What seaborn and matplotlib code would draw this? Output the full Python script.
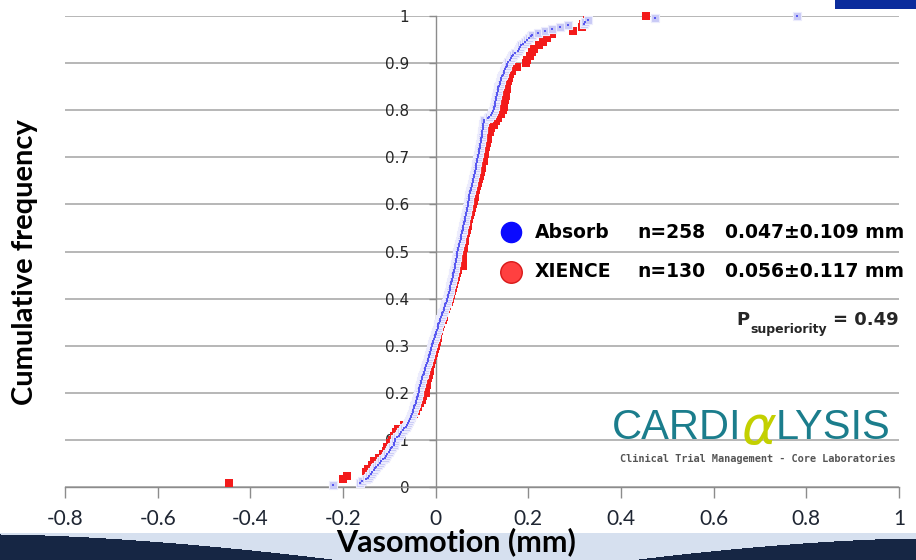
import numpy as np
import pandas as pd
import matplotlib.pyplot as plt
import seaborn as sns
from matplotlib.patches import Rectangle

# Vasomotion values (mm), sorted
absorb = [
    -0.222, -0.163, -0.158, -0.151, -0.147, -0.143, -0.140, -0.137, -0.134, -0.131,
    -0.128, -0.125, -0.121, -0.117, -0.113, -0.110, -0.107, -0.104, -0.101, -0.099,
    -0.096, -0.094, -0.091, -0.089, -0.088, -0.087, -0.083, -0.080, -0.077, -0.074,
    -0.071, -0.068, -0.065, -0.062, -0.059, -0.057, -0.055, -0.053, -0.053, -0.051,
    -0.050, -0.049, -0.047, -0.046, -0.045, -0.043, -0.042, -0.041, -0.040, -0.039,
    -0.038, -0.037, -0.036, -0.035, -0.034, -0.033, -0.032, -0.031, -0.030, -0.029,
    -0.027, -0.026, -0.025, -0.024, -0.022, -0.021, -0.020, -0.019, -0.017, -0.016,
    -0.015, -0.014, -0.013, -0.012, -0.011, -0.010, -0.008, -0.007, -0.006, -0.005,
    -0.004, -0.002, -0.001, 0.000, 0.001, 0.002, 0.004, 0.005, 0.006, 0.008,
    0.009, 0.010, 0.012, 0.013, 0.014, 0.016, 0.017, 0.018, 0.020, 0.021,
    0.022, 0.024, 0.025, 0.026, 0.027, 0.028, 0.029, 0.030, 0.031, 0.032,
    0.033, 0.034, 0.035, 0.036, 0.037, 0.038, 0.038, 0.039, 0.040, 0.041,
    0.041, 0.042, 0.043, 0.044, 0.044, 0.045, 0.046, 0.047, 0.047, 0.048,
    0.049, 0.050, 0.051, 0.052, 0.053, 0.054, 0.054, 0.055, 0.056, 0.057,
    0.058, 0.059, 0.060, 0.061, 0.062, 0.063, 0.063, 0.064, 0.065, 0.066,
    0.067, 0.067, 0.068, 0.069, 0.069, 0.070, 0.071, 0.072, 0.073, 0.073,
    0.074, 0.075, 0.076, 0.077, 0.078, 0.079, 0.080, 0.081, 0.081, 0.082,
    0.083, 0.084, 0.085, 0.086, 0.086, 0.087, 0.088, 0.089, 0.089, 0.090,
    0.091, 0.092, 0.093, 0.093, 0.094, 0.095, 0.096, 0.096, 0.097, 0.098,
    0.098, 0.099, 0.100, 0.100, 0.101, 0.102, 0.102, 0.103, 0.103, 0.104,
    0.104, 0.112, 0.116, 0.119, 0.122, 0.124, 0.125, 0.126, 0.127, 0.128,
    0.129, 0.130, 0.131, 0.131, 0.132, 0.133, 0.134, 0.135, 0.135, 0.136,
    0.138, 0.139, 0.141, 0.142, 0.144, 0.145, 0.147, 0.148, 0.150, 0.152,
    0.153, 0.154, 0.157, 0.160, 0.163, 0.165, 0.167, 0.172, 0.177, 0.180,
    0.182, 0.185, 0.189, 0.193, 0.197, 0.201, 0.205, 0.207, 0.221, 0.235,
    0.250, 0.268, 0.285, 0.320, 0.322, 0.329, 0.473, 0.779,
]

xience = [
    -0.445, -0.199, -0.191, -0.150, -0.145, -0.138, -0.133, -0.122, -0.114, -0.108,
    -0.104, -0.099, -0.095,
    -0.090, -0.085, -0.081, -0.068, -0.056, -0.052, -0.047, -0.042, -0.038, -0.034,
    -0.030, -0.027, -0.021,
    -0.020, -0.019, -0.018, -0.016, -0.015, -0.013, -0.012, -0.010, -0.008, -0.006,
    -0.004, -0.002, 0.000,
    0.002, 0.004, 0.006, 0.008, 0.010, 0.012, 0.015, 0.017, 0.019, 0.022,
    0.025, 0.028, 0.031,
    0.033, 0.036, 0.038, 0.040, 0.042, 0.044, 0.046, 0.048,
    0.058, 0.058, 0.059, 0.059, 0.059,
    0.061, 0.062, 0.063, 0.064, 0.066, 0.067, 0.069, 0.070, 0.072, 0.074,
    0.076, 0.078, 0.080,
    0.082, 0.084, 0.085, 0.087, 0.089, 0.091, 0.093, 0.095, 0.097, 0.099, 0.101,
    0.104, 0.105, 0.106, 0.107, 0.109, 0.111, 0.112, 0.114, 0.117,
    0.120, 0.125, 0.130, 0.135, 0.140, 0.145,
    0.147, 0.148, 0.150, 0.151, 0.152, 0.153,
    0.155, 0.156, 0.158, 0.160, 0.165, 0.175,
    0.195, 0.198, 0.203, 0.208, 0.213, 0.222, 0.232, 0.240,
    0.250, 0.297, 0.315, 0.319, 0.326, 0.455,
]

x_ticks = [-0.8, -0.6, -0.4, -0.2, 0.0, 0.2, 0.4, 0.6, 0.8, 1.0]
x_labels = ['-0.8', '-0.6', '-0.4', '-0.2', '0', '0.2', '0.4', '0.6', '0.8', '1']
y_ticks = [0.0, 0.1, 0.2, 0.3, 0.4, 0.5, 0.6, 0.7, 0.8, 0.9, 1.0]
y_labels = ['0', '0.1', '0.2', '0.3', '0.4', '0.5', '0.6', '0.7', '0.8', '0.9', '1']


def cumul(vals, name):
    v = np.sort(np.array(vals))
    n = len(v)
    return pd.DataFrame({'Vasomotion': v, 'Cumulative': np.arange(1, n + 1) / n, 'Stent': name})


df_abs = cumul(absorb, 'Absorb')
df_xie = cumul(xience, 'XIENCE')

sns.set_theme(style='white')
plt.rcParams['font.family'] = ['DejaVu Sans']

W, H = 916, 560
fig = plt.figure(figsize=(W / 100, H / 100), dpi=100)


def fx(px):
    return px / W


def fy(py):
    return 1 - py / H


# bande décorative en bas de la diapo
band = fig.add_axes([0, 0, 1, 32 / H], zorder=0)
cols = np.arange(W)
rows = np.arange(32)
top = np.full(W, 99.0)
left = cols < 340
top[left] = 6 + 26 * (cols[left] / 340.0) ** 1.6
right = cols > 630
top[right] = 10 + 22 * ((W - cols[right]) / 286.0) ** 1.6
dark = rows[:, None] >= top[None, :]
img = np.ones((32, W, 3))
img[:, :] = [0.84, 0.88, 0.94]
img[:5, :] = [1, 1, 1]
img[dark] = [0.09, 0.15, 0.27]
band.imshow(img, aspect='auto', extent=[0, 1, 0, 1])
band.axis('off')

# bout de logo bleu en haut à droite
fig.add_artist(Rectangle((fx(835), fy(9)), fx(81), 9 / H, transform=fig.transFigure,
                         color='#0b2c9c', lw=0))

ax = fig.add_axes([fx(65), 73.3 / H, fx(834), 470.4 / H], zorder=1)
ax.patch.set_alpha(0)

sns.scatterplot(data=df_xie, x='Vasomotion', y='Cumulative', marker='s', s=36,
                color='#f31b1b', linewidth=0, ax=ax, zorder=3, legend=False)
sns.scatterplot(data=df_abs, x='Vasomotion', y='Cumulative', marker='s', s=34,
                color='#c9caf6', edgecolor='#ececfd', linewidth=0.8, ax=ax, zorder=4, legend=False)
sns.scatterplot(data=df_abs, x='Vasomotion', y='Cumulative', marker='s', s=4,
                color='#5858f0', linewidth=0, ax=ax, zorder=5, legend=False)
for c in ax.collections:
    c.set_clip_on(False)

ax.set_xlim(-0.8, 1.0)
ax.set_ylim(0, 1)
ax.set_xticks(x_ticks)
ax.set_xticklabels(x_labels, fontfamily='Lato', fontsize=15, color='#1f2633')
ax.set_yticks(y_ticks)
ax.set_yticklabels(y_labels, fontsize=15, color='#1f2633')
ax.set_xlabel('')
ax.set_ylabel('')

ax.spines['top'].set_visible(False)
ax.spines['right'].set_visible(False)
ax.spines['left'].set_position(('data', 0))
for s in ['left', 'bottom']:
    ax.spines[s].set_color('#8c8c8c')
    ax.spines[s].set_linewidth(1.0)
ax.yaxis.grid(True, color='#a3a3a3', linewidth=1.1)
ax.xaxis.grid(False)
ax.set_axisbelow(True)
ax.tick_params(axis='x', direction='out', length=8, width=1, color='#8c8c8c', pad=8, bottom=True)
ax.tick_params(axis='y', direction='out', length=5, width=1, color='#8c8c8c', pad=14, left=True)

# titres des axes
fig.text(fx(456), fy(542), 'Vasomotion (mm)', ha='center', va='center',
         fontfamily='Lato', fontweight='bold', fontsize=22, color='black')
fig.text(fx(25), fy(262), 'Cumulative frequency', ha='center', va='center', rotation=90,
         fontfamily='Lato', fontweight='bold', fontsize=21, color='black')

# légende faite à la main
ax.plot([fx(511)], [fy(232)], 'o', transform=fig.transFigure, clip_on=False,
        ms=14.5, mfc='#0a0aff', mec='#0a0aff')
ax.plot([fx(511)], [fy(272.5)], 'o', transform=fig.transFigure, clip_on=False,
        ms=15.5, mfc='#ff4040', mec='#d81818', mew=1)
rows_txt = [('Absorb', 'n=258', '0.047\u00b10.109 mm', 232),
            ('XIENCE', 'n=130', '0.056\u00b10.117 mm', 271.5)]
for name, n, stat, py in rows_txt:
    for px, t in [(535, name), (637, n), (725, stat)]:
        fig.text(fx(px), fy(py), t, ha='left', va='center', fontsize=13.5,
                 fontweight='bold', color='black')
fig.text(fx(736), fy(320), 'P', ha='left', va='center', fontsize=13, fontweight='bold')
fig.text(fx(750), fy(329), 'superiority', ha='left', va='center', fontsize=9, fontweight='bold')
fig.text(fx(833), fy(320), '= 0.49', ha='left', va='center', fontsize=13, fontweight='bold')

# logo Cardialysis
teal = '#1b7d8c'
fig.text(fx(741), fy(428), 'CARDI', ha='right', va='center', fontsize=30,
         fontfamily='Liberation Sans', color=teal)
fig.text(fx(759), fy(429), '\u03b1', ha='center', va='center', fontsize=38,
         fontfamily='DejaVu Sans', style='italic', color='#c3d000')
fig.text(fx(776), fy(428), 'LYSIS', ha='left', va='center', fontsize=30,
         fontfamily='Liberation Sans', color=teal)
fig.text(fx(758), fy(459), 'Clinical Trial Management - Core Laboratories', ha='center',
         va='center', fontsize=7.4, fontfamily='DejaVu Sans Mono', fontweight='bold',
         color='#555555')

fig.savefig('out.png', dpi=100)
